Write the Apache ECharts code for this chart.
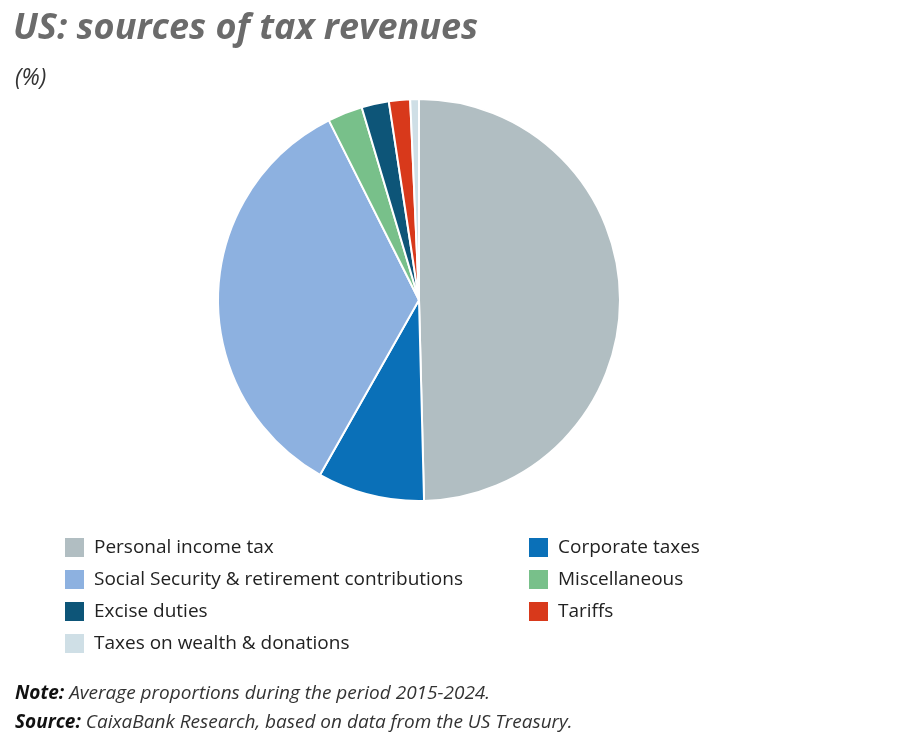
<!DOCTYPE html>
<html><head><meta charset="utf-8">
<script src="https://cdn.jsdelivr.net/npm/echarts@6/dist/echarts.min.js"></script>
<style>body{margin:0;background:#fff}#main{width:900px;height:750px}</style>
</head><body><div id="main"></div>
<script>
var categories = ['Personal income tax', 'Corporate taxes', 'Social Security & retirement contributions',
  'Miscellaneous', 'Excise duties', 'Tariffs', 'Taxes on wealth & donations'];
var shares = [49.6, 8.6, 34.4, 2.8, 2.2, 1.7, 0.7];
var colors = ['#b1bec2', '#0a70b8', '#8db1e0', '#78c08a', '#0d5578', '#d8391b', '#cfdfe6'];

var chart = echarts.init(document.getElementById('main'));
var legendBase = {
  orient: 'vertical', top: 531, itemWidth: 21, itemHeight: 21, itemGap: 9,
  icon: 'rect', selectedMode: false,
  textStyle: { fontFamily: 'Open Sans', fontSize: 19, color: '#222', padding: [0, 0, 0, 4] }
};
chart.setOption({
  color: colors,
  title: [
    { text: 'US: sources of tax revenues', left: 8, top: 6,
      textStyle: { fontFamily: 'Open Sans', fontSize: 36, fontWeight: 'bold', fontStyle: 'italic', color: '#6b6b6b' } },
    { text: '(%)', left: 10, top: 62,
      textStyle: { fontFamily: 'Open Sans', fontSize: 23, fontStyle: 'italic', fontWeight: 'normal', color: '#333' } },
    { text: '{b|Note:} Average proportions during the period 2015-2024.\n{b|Source:} CaixaBank Research, based on data from the US Treasury.',
      left: 10, top: 674,
      textStyle: { fontFamily: 'Open Sans', fontSize: 19, fontStyle: 'italic', fontWeight: 'normal', color: '#333', lineHeight: 29,
        rich: { b: { fontWeight: 'bold', fontStyle: 'italic', fontSize: 19, fontFamily: 'Open Sans', color: '#111' } } } }
  ],
  legend: [
    Object.assign({}, legendBase, { left: 58, data: [categories[0], categories[2], categories[4], categories[6]] }),
    Object.assign({}, legendBase, { left: 522, data: [categories[1], categories[3], categories[5]] })
  ],
  series: [{
    type: 'pie', center: [419, 300], radius: 201, startAngle: 90, clockwise: true,
    label: { show: false }, labelLine: { show: false }, silent: true,
    itemStyle: { borderColor: '#fff', borderWidth: 2 },
    data: categories.map(function (c, i) { return { name: c, value: shares[i] }; })
  }]
});
</script></body></html>
